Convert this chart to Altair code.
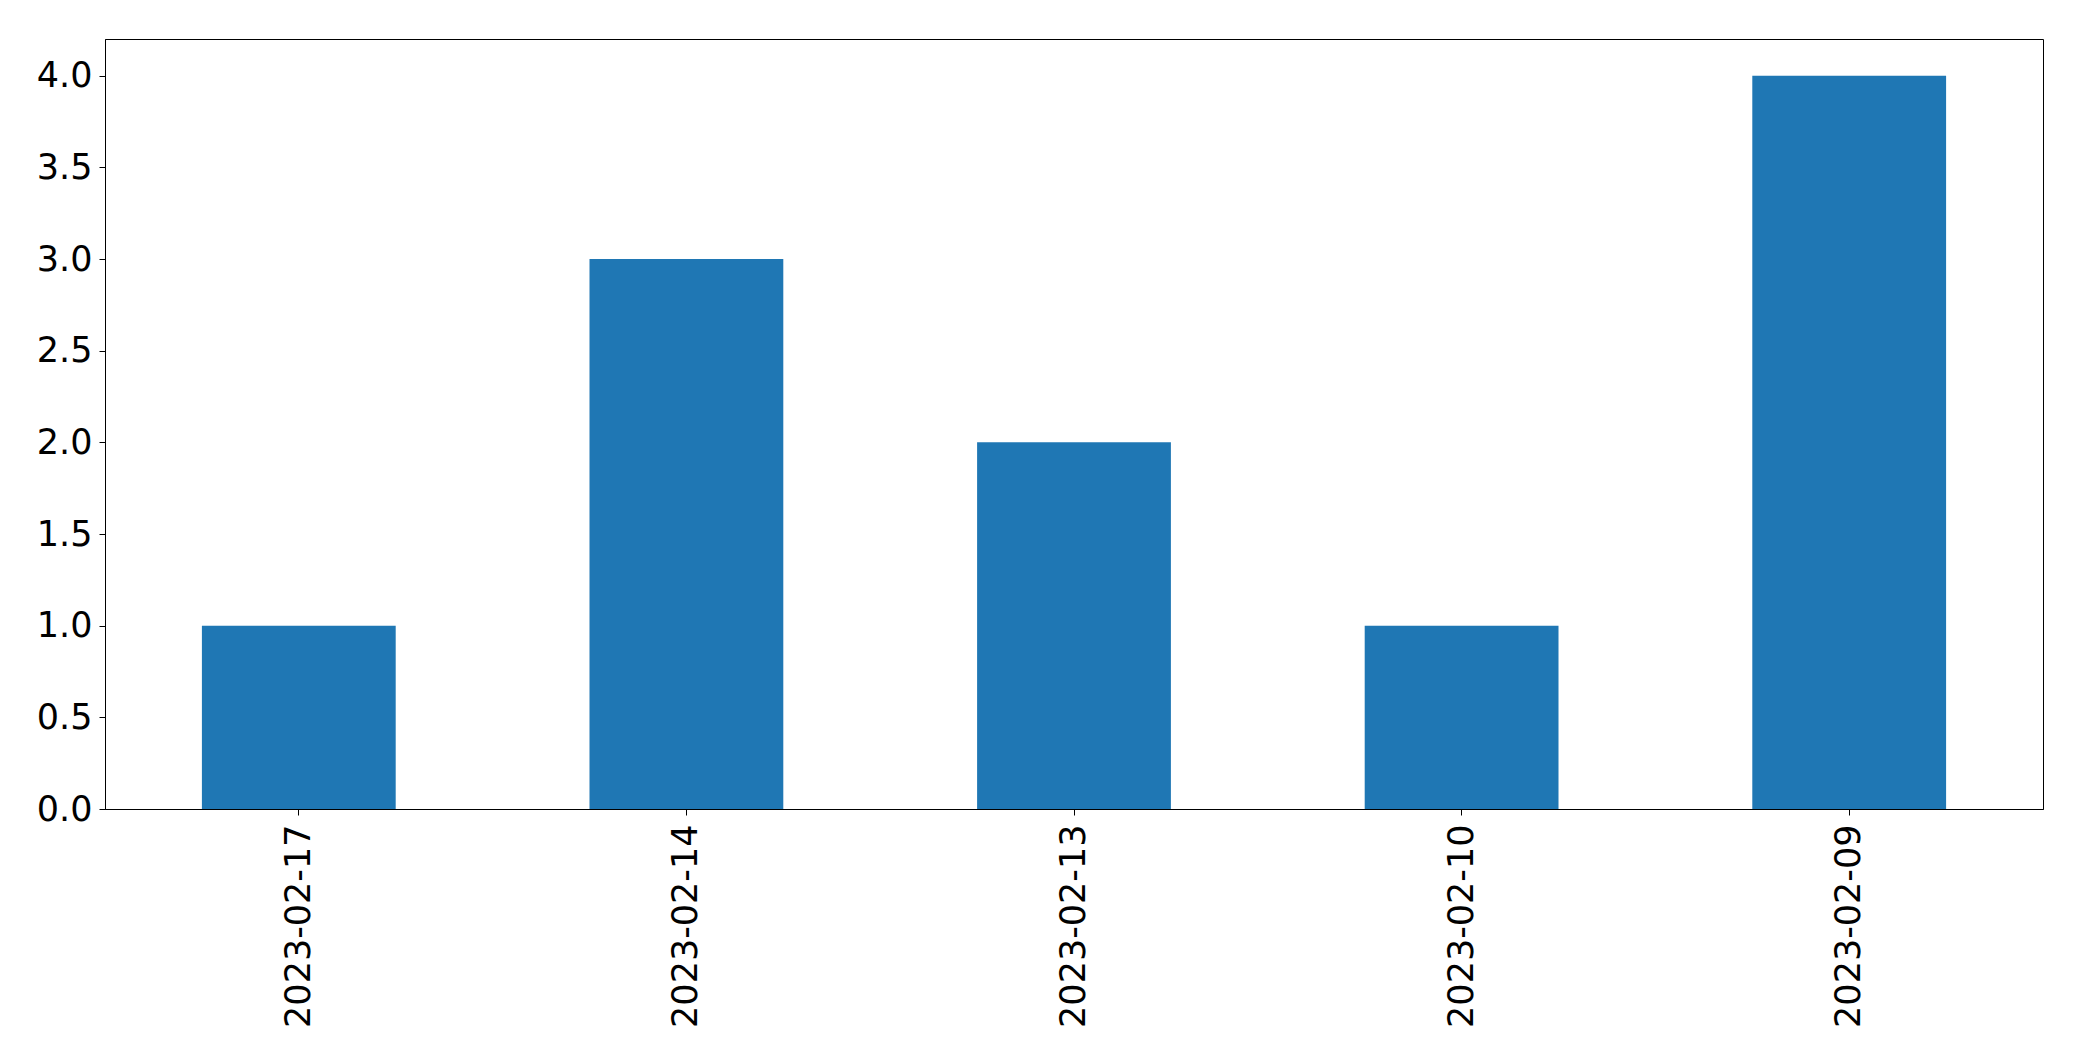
import altair as alt
import pandas as pd

dates = ["2023-02-17", "2023-02-14", "2023-02-13", "2023-02-10", "2023-02-09"]
counts = [1, 3, 2, 1, 4]
y_ticks = [0.0, 0.5, 1.0, 1.5, 2.0, 2.5, 3.0, 3.5, 4.0]

df = pd.DataFrame({"date": dates, "count": counts})

chart = (
    alt.Chart(df)
    .mark_bar(color="#1f77b4")
    .encode(
        x=alt.X(
            "date:N",
            sort=None,
            title=None,
            scale=alt.Scale(paddingInner=0.5, paddingOuter=0.25),
            axis=alt.Axis(
                labelAngle=270,
                labelFont="DejaVu Sans",
                labelFontSize=35,
                labelColor="black",
                labelPadding=9,
                labelLimit=1000,
                tickColor="black",
                tickSize=6,
                tickWidth=1,
                domainColor="black",
                domainWidth=1,
                grid=False,
            ),
        ),
        y=alt.Y(
            "count:Q",
            title=None,
            scale=alt.Scale(domain=[0, 4.2], nice=False, zero=True),
            axis=alt.Axis(
                values=y_ticks,
                format=".1f",
                labelFont="DejaVu Sans",
                labelFontSize=35,
                labelColor="black",
                labelPadding=7,
                labelLimit=1000,
                tickColor="black",
                tickSize=6,
                tickWidth=1,
                domainColor="black",
                domainWidth=1,
                grid=False,
            ),
        ),
    )
    .properties(
        width=1938,
        height=770,
        background="white",
        autosize=alt.AutoSizeParams(type="none"),
        padding={"left": 97, "top": 31, "right": 20, "bottom": 230},
    )
    .configure_view(stroke="black", strokeWidth=1)
)

chart.save("out.html", embed_options={"renderer": "svg", "actions": False})
